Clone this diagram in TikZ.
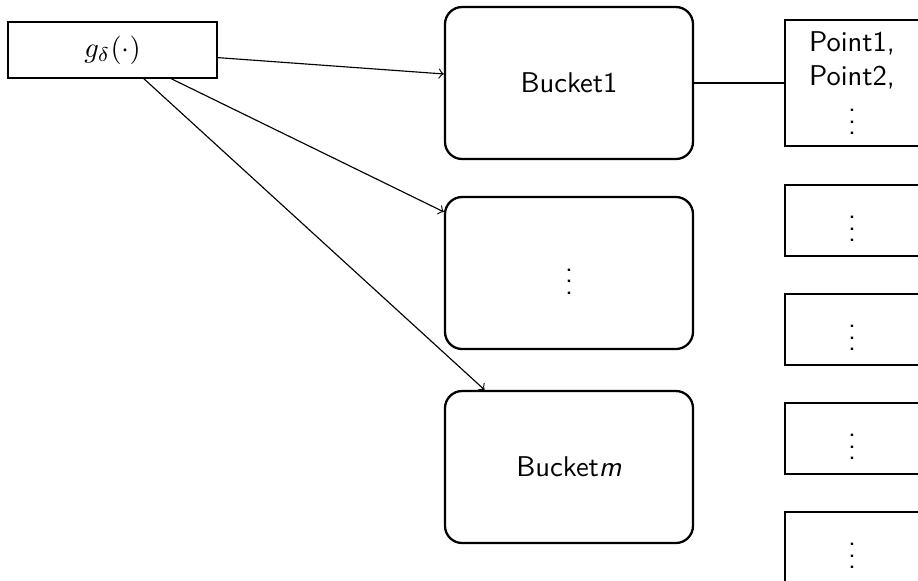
\documentclass[tikz,border=0pt]{standalone}
\usetikzlibrary{arrows}
\begin{document}
\begin{tikzpicture}[x=0.35pt,y=-0.35pt,
  font=\sffamily,
  hashbox/.style={draw,thin,minimum width=73.15pt,minimum height=19.6pt,inner sep=0pt},
  bucket/.style={draw,line width=0.8pt,rounded corners=6pt,minimum width=86.8pt,minimum height=53.2pt,inner sep=0pt},
  listbox/.style={draw,thin,minimum width=46.9pt,minimum height=24.85pt,inner sep=0pt,align=center},
  link/.style={thin,->}]
  \useasboundingbox (0,0) rectangle (918,580);
  \clip (0,0) rectangle (918,580);

  % hash function
  \node[hashbox] (g) at (112.5,50) {$g_\delta(\cdot)$};

  % buckets
  \node[bucket] (b1) at (569,83) {Bucket1};
  \node[bucket] (b2) at (569,273) {$\vdots$};
  \node[bucket] (bm) at (569,467) {Bucket\textit{m}};

  % point lists
  \node[listbox,minimum height=44.1pt] (p1) at (852,83) {Point1,\\Point2,\\$\vdots$};
  \node[listbox] (p2) at (852,220.5) {$\vdots$};
  \node[listbox] (p3) at (852,329.5) {$\vdots$};
  \node[listbox] (p4) at (852,438.5) {$\vdots$};
  \node[listbox] (p5) at (852,547.5) {$\vdots$};

  % connectors
  \draw[link] (g) -- (b1);
  \draw[link] (g) -- (b2);
  \draw[link] (g) -- (bm);
  \draw[thin] (b1) -- (p1);
\end{tikzpicture}
\end{document}
